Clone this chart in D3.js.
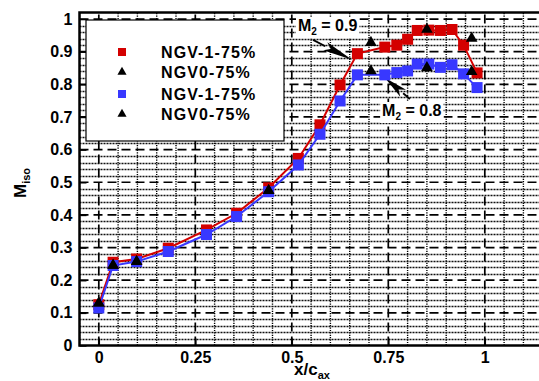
<!DOCTYPE html>
<html>
<head>
<meta charset="utf-8">
<script src="https://cdn.jsdelivr.net/npm/d3@7/dist/d3.min.js"></script>
<style>
body { margin: 0; background: #fff; }
svg { font-family: "Liberation Sans", Arial, sans-serif; font-weight: bold; }
</style>
</head>
<body>
<div id="chart"></div>
<script>
// Chart data
var xPos = [0, 0.037, 0.098, 0.18, 0.279, 0.357, 0.44, 0.517, 0.573, 0.625, 0.67,
            0.741, 0.772, 0.80, 0.825, 0.855, 0.885, 0.915, 0.945, 0.98];
var redVals = [0.125, 0.255, 0.265, 0.298, 0.354, 0.405, 0.483, 0.573, 0.676, 0.798, 0.894,
               0.914, 0.920, 0.938, 0.965, 0.966, 0.965, 0.968, 0.92, 0.835];
var blueVals = [0.115, 0.245, 0.257, 0.288, 0.34, 0.395, 0.471, 0.553, 0.647, 0.749, 0.829,
                0.829, 0.836, 0.841, 0.862, 0.862, 0.852, 0.86, 0.832, 0.79];
var triX = [0, 0.037, 0.098, 0.44, 0.705, 0.85, 0.966];
var triUpper = [0.13, 0.245, 0.257, 0.474, 0.928, 0.968, 0.941];
var triLower = [0.13, 0.245, 0.257, 0.474, 0.841, 0.851, 0.839];

var xTicks = [0, 0.25, 0.5, 0.75, 1];
var xTickLabels = ["0", "0.25", "0.5", "0.75", "1"];
var yTicks = [0, 0.1, 0.2, 0.3, 0.4, 0.5, 0.6, 0.7, 0.8, 0.9, 1];
var yTickLabels = ["0", "0.1", "0.2", "0.3", "0.4", "0.5", "0.6", "0.7", "0.8", "0.9", "1"];
var legendNames = ["NGV-1-75%", "NGV0-75%", "NGV-1-75%", "NGV0-75%"];

var width = 539, height = 381;
var red = "#d40000", blue = "#3838ff";

var svg = d3.select("#chart").append("svg")
    .attr("width", width)
    .attr("height", height);

var x = d3.scaleLinear().domain([-0.05, 1.15]).range([79.5, 542.7]);
var y = d3.scaleLinear().domain([0, 1.02]).range([345.5, 12.5]);

svg.append("clipPath").attr("id", "clip")
  .append("rect")
    .attr("x", x(-0.05)).attr("y", y(1.02))
    .attr("width", x(1.15) - x(-0.05)).attr("height", y(0) - y(1.02));

var plot = svg.append("g").attr("clip-path", "url(#clip)");

// grid: minor verticals every 0.05 (dotted), majors every 0.25 (dashed)
var vMinor = d3.range(-1, 24).map(function(i) { return i * 0.05; })
    .filter(function(v) { return Math.abs(v / 0.25 - Math.round(v / 0.25)) > 1e-6; });
plot.selectAll(".vminor").data(vMinor).enter().append("line")
    .attr("x1", function(d) { return x(d); }).attr("x2", function(d) { return x(d); })
    .attr("y1", y(0)).attr("y2", y(1.02))
    .attr("stroke", "#000").attr("stroke-width", 1.4).attr("stroke-dasharray", "1.2,1.2");

var hMinor = d3.range(1, 51).map(function(i) { return i * 0.02; })
    .filter(function(v) { return Math.abs(v / 0.1 - Math.round(v / 0.1)) > 1e-6; });
plot.selectAll(".hminor").data(hMinor).enter().append("line")
    .attr("x1", x(-0.05)).attr("x2", x(1.15))
    .attr("y1", function(d) { return Math.round(y(d)) + 0.5; })
    .attr("y2", function(d) { return Math.round(y(d)) + 0.5; })
    .attr("stroke", "#111").attr("stroke-width", 1.4).attr("stroke-dasharray", "2,1");

plot.selectAll(".hmajor").data(yTicks.slice(1)).enter().append("line")
    .attr("x1", x(-0.05)).attr("x2", x(1.15))
    .attr("y1", function(d) { return y(d); }).attr("y2", function(d) { return y(d); })
    .attr("stroke", "#000").attr("stroke-width", 1.7).attr("stroke-dasharray", "9,5");

plot.selectAll(".vmajor").data(xTicks).enter().append("line")
    .attr("x1", function(d) { return x(d); }).attr("x2", function(d) { return x(d); })
    .attr("y1", y(0)).attr("y2", y(1.02))
    .attr("stroke", "#000").attr("stroke-width", 1.7).attr("stroke-dasharray", "9,5");

// axes: inward ticks, labels outside
var yAxis = svg.append("g")
    .attr("transform", "translate(" + x(-0.05) + ",0)")
    .call(d3.axisLeft(y).tickValues(yTicks)
      .tickFormat(function(d, i) { return yTickLabels[i]; })
      .tickSize(-7).tickPadding(7));
var xAxis = svg.append("g")
    .attr("transform", "translate(0," + y(0) + ")")
    .call(d3.axisBottom(x).tickValues(xTicks)
      .tickFormat(function(d, i) { return xTickLabels[i]; })
      .tickSize(-7).tickPadding(6));
[yAxis, xAxis].forEach(function(a) {
  a.select(".domain").remove();
  a.selectAll("line").attr("stroke", "#000").attr("stroke-width", 1.5);
  a.selectAll("text").attr("fill", "#000")
    .style("font-size", "16px").style("font-weight", "bold")
    .style("font-family", "'Liberation Sans', Arial, sans-serif");
});
xAxis.selectAll("text").attr("dy", "0.71em");

// frame
svg.append("rect")
    .attr("x", x(-0.05)).attr("y", y(1.02))
    .attr("width", x(1.15) - x(-0.05)).attr("height", y(0) - y(1.02))
    .attr("fill", "none").attr("stroke", "#000").attr("stroke-width", 2.5);

// annotations (behind data, white boxes cut the grid)
function annot(label, xv, yv) {
  var t = svg.append("text")
      .attr("x", x(xv)).attr("y", y(yv))
      .style("font-size", "16px");
  t.append("tspan").text("M");
  t.append("tspan").attr("dy", 4).style("font-size", "10px").text("2");
  t.append("tspan").attr("dy", -4).text(" = " + label);
  var bb = t.node().getBBox();
  svg.insert("rect", function() { return t.node(); })
      .attr("x", bb.x - 2).attr("y", bb.y).attr("width", bb.width + 4).attr("height", bb.height + 1)
      .attr("fill", "#fff");
}
annot("0.9", 0.516, 0.963);
annot("0.8", 0.734, 0.703);

function arrow(x0, y0, x1, y1, len, hw) {
  var p0 = [x(x0), y(y0)], p1 = [x(x1), y(y1)];
  var dx = p1[0] - p0[0], dy = p1[1] - p0[1];
  var L = Math.sqrt(dx * dx + dy * dy);
  var ux = dx / L, uy = dy / L;
  var bx = p1[0] - ux * len, by = p1[1] - uy * len;
  svg.append("line")
      .attr("x1", p0[0]).attr("y1", p0[1]).attr("x2", bx).attr("y2", by)
      .attr("stroke", "#000").attr("stroke-width", 1.8);
  svg.append("polygon")
      .attr("points", [p1, [bx - uy * hw, by + ux * hw], [bx + ux * 6, by + uy * 6], [bx + uy * hw, by - ux * hw]]
        .map(function(p) { return p.join(","); }).join(" "))
      .attr("fill", "#000");
}
arrow(0.555, 0.936, 0.656, 0.875, 30, 4.5);
arrow(0.806, 0.755, 0.741, 0.82, 24, 4.5);

// data
var lineGen = d3.line().x(function(d) { return x(d[0]); }).y(function(d) { return y(d[1]); });
var sq = d3.symbol().type(d3.symbolSquare).size(121);
var tri = d3.symbol().type(d3.symbolTriangle).size(58);

function squares(vals, color) {
  var pts = xPos.map(function(v, i) { return [v, vals[i]]; });
  svg.append("path").datum(pts)
      .attr("d", lineGen).attr("fill", "none")
      .attr("stroke", color).attr("stroke-width", 2);
  svg.selectAll(null).data(pts).enter().append("path")
      .attr("d", sq)
      .attr("transform", function(d) { return "translate(" + x(d[0]) + "," + y(d[1]) + ")"; })
      .attr("fill", color);
}
squares(redVals, red);
squares(blueVals, blue);

[triUpper, triLower].forEach(function(vals) {
  svg.selectAll(null).data(triX.map(function(v, i) { return [v, vals[i]]; }))
    .enter().append("path")
      .attr("d", tri)
      .attr("transform", function(d) { return "translate(" + x(d[0]) + "," + y(d[1]) + ")"; })
      .attr("fill", "#000");
});

// legend
var leg = svg.append("g");
leg.append("rect")
    .attr("x", 86).attr("y", 20).attr("width", 198).attr("height", 121)
    .attr("fill", "#fff").attr("stroke", "#000").attr("stroke-width", 1.2);
var legColors = [red, "#000", blue, "#000"];
var legY = [52, 72, 94, 114];
legendNames.forEach(function(name, i) {
  leg.append("path")
      .attr("d", i % 2 === 0 ? d3.symbol().type(d3.symbolSquare).size(64)() : d3.symbol().type(d3.symbolTriangle).size(36)())
      .attr("transform", "translate(122," + legY[i] + ")")
      .attr("fill", legColors[i]);
  leg.append("text")
      .attr("x", 161).attr("y", legY[i] + 6)
      .style("font-size", "16px").style("letter-spacing", "1.1px")
      .text(name);
});

// axis titles
var yt = svg.append("text")
    .attr("transform", "translate(26,183) rotate(-90)")
    .attr("text-anchor", "middle").style("font-size", "17px");
yt.append("tspan").text("M");
yt.append("tspan").attr("dy", 4).style("font-size", "11px").text("iso");

var xt = svg.append("text")
    .attr("x", 312).attr("y", 375)
    .attr("text-anchor", "middle").style("font-size", "17px");
xt.append("tspan").text("x/c");
xt.append("tspan").attr("dy", 4).style("font-size", "11px").text("ax");
</script>
</body>
</html>
